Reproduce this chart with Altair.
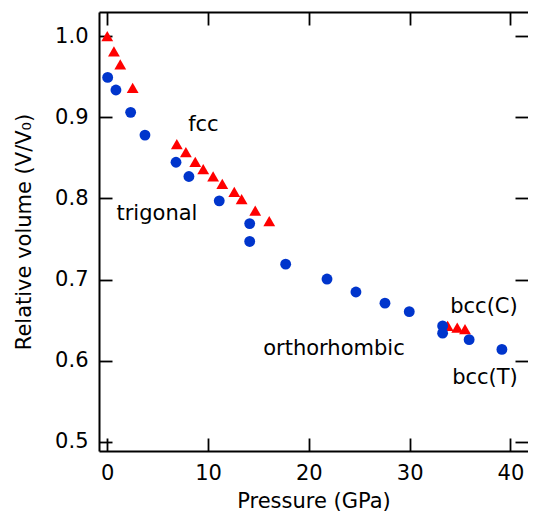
import altair as alt
import pandas as pd

# ---- data ----
tri_p = [0.0, 0.66, 1.29, 2.52, 6.9, 7.8, 8.73, 9.52, 10.5, 11.41, 12.6, 13.33, 14.68, 16.07, 33.77, 34.72, 35.49]
tri_v = [1.000, 0.981, 0.965, 0.936, 0.867, 0.857, 0.845, 0.836, 0.827, 0.818, 0.808, 0.799, 0.785, 0.772, 0.643, 0.641, 0.639]

circ_p = [0.04, 0.86, 2.32, 3.74, 6.82, 8.1, 11.11, 14.13, 14.13, 17.7, 21.8, 24.67, 27.55, 29.96, 33.27, 33.27, 35.9, 39.15]
circ_v = [0.949, 0.9335, 0.906, 0.878, 0.8445, 0.827, 0.797, 0.769, 0.747, 0.719, 0.7007, 0.6847, 0.671, 0.6605, 0.643, 0.634, 0.626, 0.614]

label_text = ["fcc", "trigonal", "orthorhombic", "bcc(C)", "bcc(T)"]
label_p = [9.54, 4.93, 22.49, 37.37, 37.47]
label_v = [0.8904, 0.7808, 0.6145, 0.6663, 0.5788]

x_ticks = [0, 10, 20, 30, 40]
y_ticks = [0.5, 0.6, 0.7, 0.8, 0.9, 1.0]

# ---- styling ----
W, H = 429, 439
FONT = "DejaVu Sans"
FS = 21
RED = "#FF0000"
BLUE = "#0035CC"

tri_df = pd.DataFrame({"p": tri_p, "v": tri_v})
circ_df = pd.DataFrame({"p": circ_p, "v": circ_v})
lab_df = pd.DataFrame({"p": label_p, "v": label_v, "t": label_text})

xs = alt.Scale(domain=[-0.82, 41.74], nice=False, zero=False)
ys = alt.Scale(domain=[0.4889, 1.0296], nice=False, zero=False)

# main axes (labels + bottom/left lines)
x_main = alt.Axis(orient="bottom", values=x_ticks, ticks=False, tickSize=0, domain=True,
                  domainColor="black", domainWidth=2, labelFont=FONT, labelFontSize=FS,
                  labelColor="black", labelPadding=11, labelFlush=False, format="d",
                  title="Pressure (GPa)", titleFont=FONT, titleFontSize=FS,
                  titleFontWeight="normal", titleColor="black", titlePadding=7, grid=False)
y_main = alt.Axis(orient="left", values=y_ticks, ticks=False, tickSize=0, domain=True,
                  domainColor="black", domainWidth=2, labelFont=FONT, labelFontSize=FS,
                  labelColor="black", labelPadding=11, labelFlush=False, format=".1f",
                  title="Relative volume (V/V\u2080)", titleFont=FONT, titleFontSize=FS,
                  titleFontWeight="normal", titleColor="black", titlePadding=20, grid=False)

# inward ticks on bottom / left (axes moved across the plot)
x_in_bottom = alt.Axis(orient="top", offset=-H, values=x_ticks, labels=False, domain=False,
                       ticks=True, tickSize=13, tickColor="black", tickWidth=1.8, grid=False, title=None)
y_in_left = alt.Axis(orient="right", offset=-W, values=y_ticks, labels=False, domain=False,
                     ticks=True, tickSize=13, tickColor="black", tickWidth=1.8, grid=False, title=None)
# inward ticks on top / right, with top frame line
x_in_top = alt.Axis(orient="bottom", offset=-H, values=x_ticks, labels=False, domain=True,
                    domainColor="black", domainWidth=2,
                    ticks=True, tickSize=13, tickColor="black", tickWidth=1.8, grid=False, title=None)
y_in_right = alt.Axis(orient="left", offset=-W, values=y_ticks, labels=False, domain=False,
                      ticks=True, tickSize=13, tickColor="black", tickWidth=1.8, grid=False, title=None)

tri = alt.Chart(tri_df).mark_point(shape="triangle-up", filled=True, size=140, opacity=1,
                                   color=RED, strokeWidth=0).encode(
    x=alt.X("p:Q", scale=xs, axis=x_main),
    y=alt.Y("v:Q", scale=ys, axis=y_main),
)

circ = alt.Chart(circ_df).mark_point(shape="circle", filled=True, size=118, opacity=1,
                                     color=BLUE, strokeWidth=0).encode(
    x=alt.X("p:Q", scale=xs, axis=x_in_bottom),
    y=alt.Y("v:Q", scale=ys, axis=y_in_left),
)

labels = alt.Chart(lab_df).mark_text(font=FONT, fontSize=FS, color="black",
                                     align="center", baseline="middle").encode(
    x=alt.X("p:Q", scale=xs, axis=x_in_top),
    y=alt.Y("v:Q", scale=ys, axis=y_in_right),
    text="t:N",
)

chart = alt.layer(tri, circ, labels).resolve_axis(x="independent", y="independent").properties(
    width=W, height=H,
    autosize=alt.AutoSizeParams(type="none"),
    padding={"left": 91, "top": 4, "right": 0, "bottom": 64},
    background="white",
).configure_view(stroke=None)

chart.save("out.html", embed_options={"renderer": "svg", "actions": False})
